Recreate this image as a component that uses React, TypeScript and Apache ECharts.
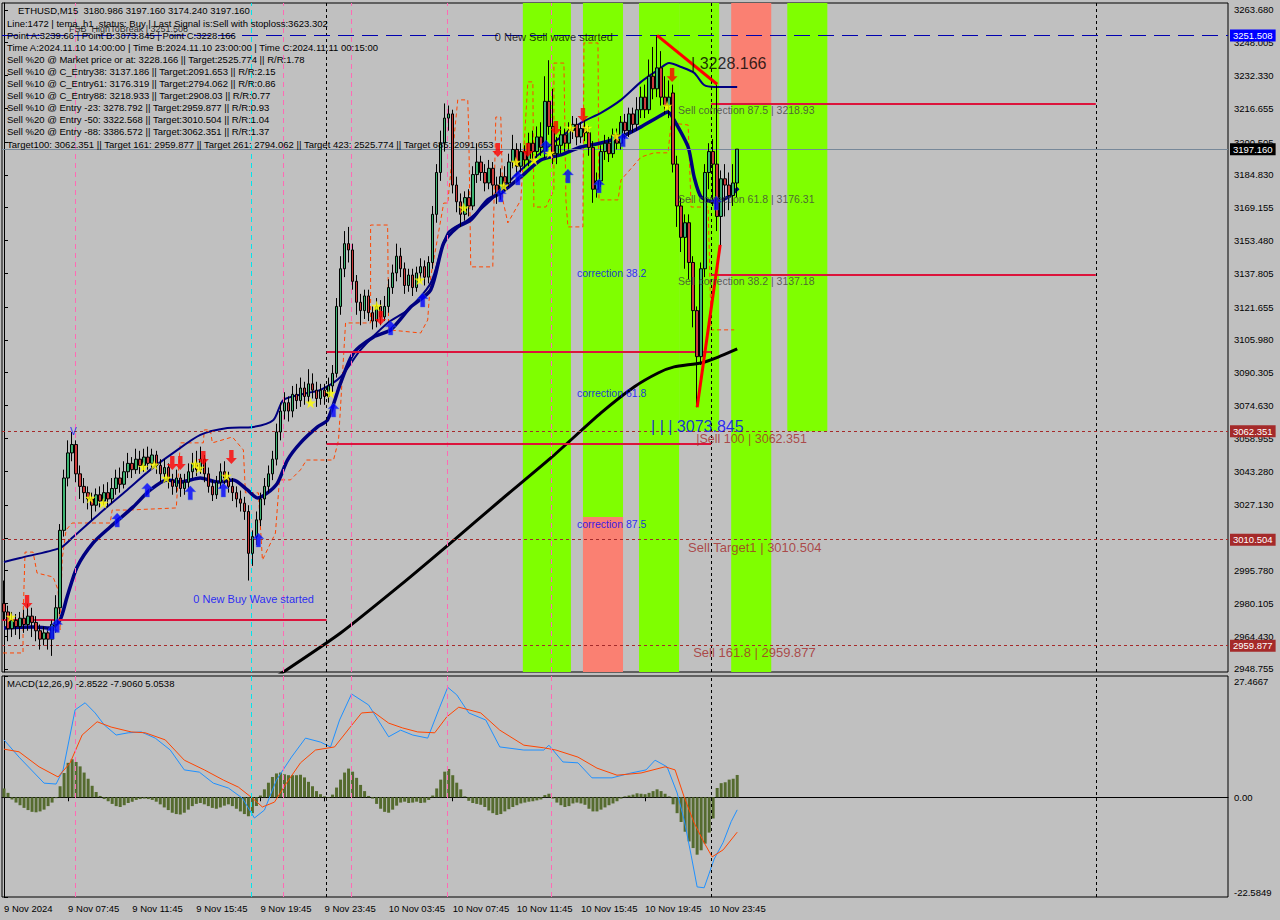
import React, { useEffect, useRef } from "react";
import * as echarts from "echarts";

const FONT = "'Liberation Sans', Arial, sans-serif";
const Y_MIN = 2947.3;
const Y_MAX = 3267.0;
const MACD_MIN = -22.5849;
const MACD_MAX = 27.4667;
const N_SLOTS = 306;

const TIME_LABELS = ["9 Nov 2024", "9 Nov 07:45", "9 Nov 11:45", "9 Nov 15:45", "9 Nov 19:45", "9 Nov 23:45", "10 Nov 03:45", "10 Nov 07:45", "10 Nov 11:45", "10 Nov 15:45", "10 Nov 19:45", "10 Nov 23:45"];
const PRICE_TICKS = [2948.755, 2964.43, 2980.105, 2995.78, 3011.455, 3027.13, 3043.28, 3058.955, 3074.63, 3090.305, 3105.98, 3121.655, 3137.805, 3153.48, 3169.155, 3184.83, 3200.505, 3216.655, 3232.33, 3248.005, 3263.68];
const MACD_TICKS = [-22.5849, 0, 27.4667];

// [open, close, low, high]
const CANDLES = [
  [2980, 2976, 2972, 2991], [2976, 2968, 2962, 2979], [2968, 2972, 2964, 2976], [2972, 2969, 2965, 2975], [2969, 2973, 2963, 2976],
  [2973, 2970, 2966, 2977], [2970, 2974, 2967, 2980], [2974, 2971, 2964, 2978], [2971, 2967, 2962, 2974], [2967, 2963, 2958, 2970],
  [2963, 2966, 2960, 2969], [2966, 2963, 2958, 2968], [2963, 2970, 2955, 2972], [2970, 2978, 2966, 2984], [2978, 3015, 2975, 3018],
  [3015, 3040, 3012, 3044], [3040, 3052, 3036, 3058], [3052, 3056, 3048, 3062], [3056, 3042, 3038, 3058], [3042, 3036, 3030, 3046],
  [3036, 3033, 3028, 3040], [3033, 3030, 3025, 3036], [3030, 3027, 3020, 3033], [3027, 3032, 3024, 3035], [3032, 3029, 3026, 3036],
  [3029, 3033, 3027, 3037], [3033, 3030, 3026, 3038], [3030, 3035, 3028, 3040], [3035, 3040, 3032, 3044], [3040, 3037, 3033, 3045],
  [3037, 3043, 3035, 3048], [3043, 3047, 3040, 3052], [3047, 3044, 3040, 3050], [3044, 3049, 3042, 3054], [3049, 3046, 3042, 3053],
  [3046, 3050, 3043, 3054], [3050, 3047, 3044, 3055], [3047, 3051, 3045, 3054], [3051, 3046, 3042, 3053], [3046, 3042, 3038, 3049],
  [3042, 3045, 3038, 3049], [3045, 3039, 3035, 3047], [3039, 3036, 3032, 3042], [3036, 3040, 3033, 3044], [3040, 3035, 3031, 3042],
  [3035, 3038, 3032, 3042], [3038, 3043, 3035, 3047], [3043, 3047, 3040, 3052], [3047, 3044, 3041, 3053], [3044, 3049, 3042, 3055],
  [3049, 3042, 3038, 3051], [3042, 3036, 3033, 3045], [3036, 3032, 3029, 3039], [3032, 3038, 3030, 3041], [3038, 3043, 3035, 3047],
  [3043, 3040, 3037, 3048], [3040, 3036, 3033, 3043], [3036, 3033, 3029, 3040], [3033, 3030, 3026, 3036], [3030, 3028, 3024, 3034],
  [3028, 3024, 3020, 3031], [3024, 3004, 2991, 3027], [3004, 3012, 2998, 3015], [3012, 3020, 3008, 3024], [3020, 3030, 3017, 3033],
  [3030, 3036, 3027, 3040], [3036, 3042, 3033, 3046], [3042, 3049, 3039, 3053], [3049, 3062, 3046, 3066], [3062, 3072, 3058, 3076],
  [3072, 3076, 3068, 3081], [3076, 3072, 3067, 3079], [3072, 3080, 3069, 3084], [3080, 3077, 3073, 3085], [3077, 3083, 3074, 3088],
  [3083, 3079, 3075, 3086], [3079, 3085, 3076, 3092], [3085, 3082, 3078, 3090], [3082, 3078, 3074, 3086], [3078, 3082, 3075, 3085],
  [3082, 3079, 3075, 3085], [3079, 3084, 3076, 3088], [3084, 3090, 3081, 3094], [3090, 3122, 3088, 3126], [3122, 3140, 3118, 3146],
  [3140, 3152, 3136, 3158], [3152, 3149, 3143, 3160], [3149, 3134, 3130, 3152], [3134, 3124, 3118, 3137], [3124, 3120, 3113, 3128],
  [3120, 3127, 3116, 3130], [3127, 3119, 3115, 3130], [3119, 3115, 3111, 3122], [3115, 3122, 3112, 3126], [3122, 3117, 3113, 3125],
  [3117, 3122, 3115, 3127], [3122, 3131, 3119, 3135], [3131, 3138, 3128, 3142], [3138, 3146, 3134, 3152], [3146, 3140, 3136, 3150],
  [3140, 3132, 3128, 3143], [3132, 3137, 3129, 3140], [3137, 3131, 3127, 3140], [3131, 3138, 3129, 3141], [3138, 3141, 3134, 3145],
  [3141, 3136, 3132, 3144], [3136, 3143, 3133, 3146], [3143, 3166, 3140, 3170], [3166, 3186, 3162, 3190], [3186, 3200, 3182, 3206],
  [3200, 3212, 3196, 3219], [3212, 3214, 3206, 3218], [3214, 3180, 3176, 3216], [3180, 3172, 3167, 3184], [3172, 3166, 3160, 3176],
  [3166, 3174, 3163, 3177], [3174, 3170, 3165, 3178], [3170, 3185, 3168, 3189], [3185, 3191, 3181, 3200], [3191, 3186, 3182, 3194],
  [3186, 3181, 3177, 3190], [3181, 3188, 3178, 3192], [3188, 3180, 3175, 3191], [3180, 3176, 3171, 3184], [3176, 3184, 3173, 3188],
  [3184, 3181, 3177, 3189], [3181, 3191, 3179, 3195], [3191, 3197, 3188, 3204], [3197, 3189, 3185, 3200], [3189, 3196, 3186, 3200],
  [3196, 3192, 3188, 3199], [3192, 3200, 3189, 3205], [3200, 3196, 3191, 3206], [3196, 3203, 3193, 3208], [3203, 3198, 3194, 3210],
  [3196, 3220, 3193, 3232], [3220, 3208, 3204, 3239.66], [3208, 3195, 3190, 3226], [3195, 3199, 3190, 3203], [3199, 3204, 3195, 3208],
  [3204, 3200, 3196, 3207], [3200, 3206, 3197, 3210], [3206, 3209, 3202, 3213], [3209, 3203, 3199, 3212], [3203, 3207, 3200, 3210],
  [3207, 3205, 3201, 3211], [3205, 3198, 3194, 3208], [3198, 3178, 3171.5, 3201], [3178, 3182, 3174, 3186], [3182, 3196, 3179, 3199],
  [3196, 3200, 3192, 3204], [3200, 3195, 3191, 3203], [3195, 3204, 3193, 3207], [3204, 3200, 3197, 3207], [3200, 3210, 3197, 3213],
  [3210, 3206, 3202, 3214], [3206, 3214, 3203, 3217], [3214, 3209, 3205, 3217], [3209, 3216, 3206, 3222], [3216, 3222, 3212, 3227],
  [3222, 3216, 3212, 3228], [3216, 3232, 3214, 3240], [3232, 3226, 3221, 3246], [3226, 3236, 3222, 3251.5], [3236, 3222, 3218, 3244],
  [3222, 3218, 3214, 3232], [3218, 3222, 3212, 3230], [3224, 3190, 3186, 3228], [3190, 3170, 3160, 3194], [3170, 3155, 3148, 3174],
  [3155, 3162, 3140, 3166], [3162, 3143, 3135, 3166], [3143, 3120, 3112, 3146], [3120, 3098, 3073.845, 3122], [3098, 3140, 3094, 3143],
  [3140, 3186, 3136, 3190], [3186, 3196, 3178, 3200], [3196, 3190, 3170, 3202], [3190, 3165, 3158, 3228.166], [3165, 3183, 3150, 3187],
  [3183, 3180, 3165, 3190], [3180, 3175, 3168, 3186], [3175, 3181, 3170, 3190], [3180.986, 3197.16, 3174.24, 3197.16],
];

// [bar index, price]
const NAVY_LOWER = [[0, 2968.3], [7.25, 2968.8], [11.5, 2968.3], [14, 2972.2], [15.75, 2983.2], [18.25, 2997.5], [22.25, 3009.0], [26.5, 3016.6], [32.25, 3026.2], [36.5, 3034.3], [40.75, 3039.1], [44, 3038.1], [49, 3040.0], [53.25, 3038.1], [57.25, 3039.1], [60.75, 3034.3], [63.25, 3030.5], [65.75, 3032.9], [68.25, 3037.6], [70.75, 3048.6], [74, 3056.8], [78.25, 3064.4], [80.75, 3067.7], [84, 3085.4], [87.25, 3099.8], [92.25, 3107.4], [96.5, 3110.8], [101.5, 3121.7], [106.5, 3129.9], [109.75, 3152.3], [113.25, 3160.0], [116.5, 3163.3], [120.75, 3172.9], [124, 3176.2], [129, 3183.9], [134, 3192.0], [139, 3194.4], [144, 3198.2], [149, 3200.1], [154, 3203.0], [159, 3207.8], [163.25, 3212.5], [165.75, 3214.9], [167.25, 3211.1], [170.75, 3198.2], [172.25, 3183.9], [174, 3174.3], [177.25, 3171.9], [180.75, 3174.3], [183.25, 3178.6]];
const NAVY_UPPER = [[0, 2999.9], [4, 3001.8], [14, 3006.6], [17.25, 3011.8], [24, 3023.3], [30.75, 3034.3], [36.5, 3043.9], [42.25, 3052.0], [49, 3060.6], [55.75, 3063.9], [62.25, 3064.4], [67.25, 3067.7], [69.75, 3077.3], [75.75, 3080.6], [79, 3082.1], [84, 3088.3], [89, 3101.2], [95.75, 3114.1], [100.75, 3120.3], [106.5, 3133.2], [110.75, 3157.1], [115.75, 3163.3], [120.75, 3171.4], [124, 3177.7], [129, 3187.2], [135.75, 3198.2], [144, 3209.7], [149, 3214.5], [154, 3220.7], [159, 3229.3], [163.25, 3235.0], [166, 3238.3], [169, 3236.4], [172.25, 3233.6], [174.75, 3227.8], [177.25, 3226.9], [183, 3226.9]];
const BLACK_MA = [[65.25, 2942.0], [69.75, 2947.3], [84, 2965.9], [99, 2988.9], [111.5, 3009.0], [124, 3029.5], [136.5, 3049.6], [149, 3071.1], [157.25, 3083.5], [163.25, 3090.2], [167.25, 3093.1], [174, 3095.0], [178.25, 3097.8], [183, 3101.7]];
const ORANGE_STOP = [[-0.25, 2956.4], [4.75, 2956.4], [4.75, 2972.2], [5.25, 3004.6], [7.25, 3004.6], [8.25, 2994.6], [12.25, 2992.7], [13.5, 2986.5], [14, 2967.4], [14.5, 3000.8], [15.5, 3015.2], [17, 3018.5], [26.5, 3018.5], [27, 3024.7], [31, 3024.7], [43, 3025.7], [44, 3056.8], [49.75, 3056.8], [50, 3063.0], [51.5, 3063.0], [52, 3056.8], [57, 3059.6], [59.75, 3053.4], [60.25, 3032.9], [63.5, 3032.9], [64.5, 3000.8], [67.75, 3013.7], [68.75, 3039.1], [71.5, 3039.1], [74, 3043.9], [75.5, 3048.6], [82.25, 3048.6], [83.5, 3058.2], [85.25, 3114.1], [91.5, 3114.1], [91.5, 3160.9], [95.75, 3160.9], [96, 3110.8], [104, 3109.3], [105.75, 3115.5], [106.5, 3136.1], [109.75, 3171.4], [110.75, 3171.4], [113.25, 3220.7], [115.75, 3220.7], [116, 3204.9], [116.5, 3140.9], [122, 3140.9], [122.25, 3166.7], [122.75, 3212.5], [124, 3212.5], [124.5, 3172.9], [125.75, 3161.9], [129, 3172.9], [130.75, 3229.3], [132, 3229.3], [132.25, 3169.5], [135.25, 3169.5], [137.25, 3177.7], [137.25, 3238.3], [139.75, 3238.3], [140.25, 3172.9], [140.75, 3160.0], [144.5, 3160.0], [144.75, 3247.9], [148.25, 3247.9], [148.5, 3172.9], [153.25, 3172.9], [154, 3182.4], [159, 3193.4], [162.25, 3195.4], [165.75, 3195.4], [166.5, 3209.7], [170.75, 3208.7], [171.5, 3169.5], [175.75, 3169.5], [176.5, 3110.8], [182.25, 3110.8]];
const ZIGZAG_DOWN = [[163, 3251.5], [178, 3228.166]];
const ZIGZAG_UP = [[173, 3073.845], [178.75, 3151.4]];

const BUY_ARROWS = [[12, 2966.4], [13.25, 2969.5], [28.25, 3019.9], [35.75, 3034.3], [46.5, 3032.9], [54.75, 3034.3], [63.5, 3010.4], [82.25, 3072.5], [96.5, 3111.7], [104.5, 3125.1], [124, 3175.3], [128.25, 3183.4], [135.25, 3198.2], [140.75, 3184.3], [148.5, 3179.6], [154.5, 3201.6], [177.75, 3171.4]];
const SELL_ARROWS = [[5.75, 2980.8], [42, 3047.2], [44, 3047.2], [49.75, 3049.6], [56.75, 3050.1], [94, 3116.5], [123.25, 3196.8], [130.75, 3196.8], [137.75, 3207.3], [144.5, 3213.5], [166.75, 3232.6]];
const STARS = [[1.75, 2973.6], [21.5, 3030.4], [24.75, 3028.0], [34.75, 3045.3], [37.5, 3046.3], [40.5, 3040.0], [47.75, 3046.7], [48.75, 3044.8], [55.5, 3041.0], [76.5, 3075.9], [81.5, 3080.6], [93, 3122.2], [103.75, 3134.7], [114.75, 3169.1], [124.75, 3179.6], [127.75, 3191.0], [132.25, 3192.0], [136.25, 3195.3], [141.5, 3207.3], [145.5, 3207.3], [152.75, 3203.5], [165.5, 3217.8]];

const MACD_HIST = [
  2.0, 1.0, -0.5, -1.2, -1.8, -2.4, -2.9, -3.3, -3.4, -3.2, -2.8, -2.0, -1.2, -0.2,
  2.5, 5.5, 7.8, 8.6, 8.0, 7.0, 5.6, 4.2, 2.6, 1.2, 0.3,
  -0.4, -0.9, -1.5, -2.0, -2.2, -1.8, -1.3, -1.0, -0.6, -0.4, -0.3, -0.4,
  -0.6, -1.0, -1.6, -2.3, -2.9, -3.5, -3.8, -3.9, -3.5, -2.8, -2.0, -1.5, -1.3, -1.6, -2.0, -2.4, -2.6, -2.3, -1.9, -1.6, -2.0, -2.6, -3.2, -3.8, -4.3, -3.6, -2.0,
  0.4, 1.8, 3.3, 4.6, 5.4, 5.6, 5.2, 5.0, 5.0, 5.0, 5.1, 4.5, 3.5, 2.5, 1.4, 0.7, 0.2, -0.1,
  0.6, 2.2, 4.0, 5.6, 6.5, 5.8, 4.4, 2.8, 1.4, 0.3,
  -0.3, -1.5, -2.6, -3.3, -3.5, -2.8, -1.9, -1.2, -1.0, -1.3, -1.2, -1.0, -1.3, -1.2, -0.6,
  0.4, 2.0, 4.0, 5.8, 6.4, 5.0, 3.3, 1.8, 0.2,
  -0.8, -1.3, -1.5, -1.7, -2.2, -3.0, -3.6, -4.0, -3.8, -3.2, -2.7, -2.2, -1.8, -1.4, -1.2, -1.0, -0.9, -0.7, -0.5,
  0.5, 0.8,
  -0.3, -1.2, -1.8, -2.2, -2.0, -1.4, -1.2, -1.4, -1.7, -2.6, -3.2, -3.2, -2.8, -2.3, -1.8, -1.4, -0.9, -0.3,
  0.2, 0.4, 0.6, 0.9, 0.8, 0.7, 1.0, 1.4, 1.8, 1.4, 0.8, 0.2,
  -1.6, -3.6, -5.6, -7.8, -10.0, -11.5, -13.0, -12.0, -10.5, -8.0, -4.8,
  2.1, 3.2, 3.4, 4.0, 4.2, 5.0538,
];
const MACD_MAIN = [[0, 13.0], [3.75, 9.1], [10, 3.2], [13, 3.0], [14.75, 6.2], [17.75, 19.8], [20.25, 21.4], [22.75, 19.1], [25, 16.4], [28, 14.1], [31, 14.6], [34.25, 14.8], [37.75, 13.4], [41.5, 10.7], [45, 6.2], [48.75, 5.7], [52.25, 3.2], [56, 2.1], [59.5, -0.2], [62.5, -4.7], [65, -2.9], [68, 3.9], [71.75, 9.1], [75.25, 13.4], [79, 12.5], [81.5, 11.4], [83.75, 17.5], [86.75, 23.4], [91, 20.9], [96, 13.7], [99, 15.2], [102, 14.1], [105.75, 13.4], [108.75, 20.4], [110.75, 24.9], [113, 23.2], [116, 19.1], [120.25, 17.5], [123.75, 11.4], [129.75, 10.7], [134.75, 10.7], [136, 11.8], [139.5, 8.0], [143.25, 7.8], [146.75, 4.4], [151.75, 4.4], [156.5, 5.5], [160.25, 6.2], [162.5, 8.4], [165.5, 6.9], [168, 1.0], [169.75, -5.1], [171.5, -13.1], [173, -20.3], [174.75, -20.5], [177.25, -14.0], [179.5, -10.2], [181.5, -5.5], [183, -2.8522]];
const MACD_SIGNAL = [[0, 10.9], [3.75, 10.3], [8.75, 6.9], [13.5, 4.6], [16.5, 7.8], [19.5, 14.1], [23.25, 17.1], [26.75, 15.9], [31.75, 14.8], [35.25, 14.6], [40.25, 13.0], [45, 8.4], [50, 6.2], [54.75, 3.9], [58.5, 2.3], [62, -0.2], [64.5, -2.2], [67.5, -1.1], [70.5, 3.2], [74, 7.8], [77.75, 10.7], [82.5, 11.4], [86.25, 15.7], [89.25, 19.1], [92.25, 19.3], [96, 16.8], [99.5, 15.7], [103.25, 14.8], [107.5, 14.6], [110.5, 18.2], [113.5, 20.4], [119, 19.1], [123.75, 15.2], [129.75, 11.8], [134.75, 11.2], [137.75, 10.7], [143.25, 9.1], [148, 6.6], [153, 5.0], [159, 5.5], [165, 6.9], [167.5, 6.2], [169.75, 0.1], [172.25, -5.8], [174.75, -10.3], [176.75, -13.5], [179.5, -11.9], [183, -7.906]];

const GREEN_BANDS = [[129.5, 141.5, 2947.3, 3267.0], [144.5, 154.5, 3021.4, 3267.0], [158.5, 168.5, 2947.3, 3267.0], [168.5, 178.5, 3062.351, 3267.0], [181.5, 191.5, 2947.3, 3218.93], [195.5, 205.5, 3062.351, 3267.0]];
const SALMON_BANDS = [[144.5, 154.5, 2947.3, 3021.4], [181.5, 191.5, 3218.93, 3267.0]];
const RED_LEVELS = [[-0.5, 80.5, 2972.4], [80.5, 176.5, 3100.2], [80.5, 176.5, 3056.4], [176.5, 272.5, 3218.93], [176.5, 272.5, 3137.18]];
const PINK_VLINES = [17.7, 69.6, 86.6, 110.6, 136.5];
const CYAN_VLINES = [61.6];
const DAY_SEPARATORS = [80.5, 176.5, 272.5];

const HEADER_LINES = [
  "Line:1472 | tema_h1_status: Buy | Last Signal is:Sell with stoploss:3623.302",
  "Point A:3239.66 | Point B:3073.845 | Point C:3228.166",
  "Time A:2024.11.10 14:00:00 | Time B:2024.11.10 23:00:00 | Time C:2024.11.11 00:15:00",
  "Sell %20 @ Market price or at: 3228.166 || Target:2525.774 || R/R:1.78",
  "Sell %10 @ C_Entry38: 3137.186 || Target:2091.653 || R/R:2.15",
  "Sell %10 @ C_Entry61: 3176.319 || Target:2794.062 || R/R:0.86",
  "Sell %10 @ C_Entry88: 3218.933 || Target:2908.03 || R/R:0.77",
  "Sell %10 @ Entry -23: 3278.792 || Target:2959.877 || R/R:0.93",
  "Sell %20 @ Entry -50: 3322.568 || Target:3010.504 || R/R:1.04",
  "Sell %20 @ Entry -88: 3386.572 || Target:3062.351 || R/R:1.37",
  "Target100: 3062.351 || Target 161: 2959.877 || Target 261: 2794.062 || Target 423: 2525.774 || Target 685: 2091.653",
];

const ANNOTATIONS = [
  { text: "0 New Sell wave started", bar: 122.5, price: 3250.8, color: "#000000", size: 11 },
  { text: "0 New Buy Wave started", bar: 47.25, price: 2982.2, color: "#0000FF", size: 11 },
  { text: "FSB_HighToBreak | 3251.508", bar: 16.25, price: 3254.6, color: "#000000", size: 9 },
  { text: "| 3228.166", bar: 171.5, price: 3238.3, color: "#000000", size: 16 },
  { text: "| | | 3073.845", bar: 161.5, price: 3064.4, color: "#0000FF", size: 16 },
  { text: "|Sell 100 | 3062.351", bar: 172.75, price: 3058.7, color: "#A52A2A", size: 12.5 },
  { text: "Sell Target1 | 3010.504", bar: 170.75, price: 3007.0, color: "#A52A2A", size: 13 },
  { text: "Sell 161.8 | 2959.877", bar: 172, price: 2956.4, color: "#A52A2A", size: 13 },
  { text: "Sell correction 87.5 | 3218.93", bar: 168.25, price: 3215.9, color: "#404040", size: 10.5 },
  { text: "Sell correction 61.8 | 3176.31", bar: 168.25, price: 3173.4, color: "#404040", size: 10.5 },
  { text: "Sell correction 38.2 | 3137.18", bar: 168.25, price: 3134.2, color: "#404040", size: 10.5 },
  { text: "correction 38.2", bar: 143, price: 3138.0, color: "#0000FF", size: 10.5 },
  { text: "correction 61.8", bar: 143, price: 3080.6, color: "#0000FF", size: 10.5 },
  { text: "correction 87.5", bar: 143, price: 3018.0, color: "#0000FF", size: 10.5 },
  { text: "V", bar: 16.5, price: 3062.0, color: "#0000FF", size: 10 },
];

const UP_ARROW = "path://M5,0 L10,5 L7,5 L7,12 L3,12 L3,5 L0,5 Z";
const STAR = "path://M50,0 L61,35 L98,35 L68,57 L79,91 L50,70 L21,91 L32,57 L2,35 L39,35 Z";

function boxLine(value: number, lineColor: string, boxColor: string, type: any, text: string) {
  return {
    yAxis: value,
    lineStyle: { color: lineColor, type, width: 1 },
    label: {
      show: true, position: "end", formatter: text, backgroundColor: boxColor, color: "#ffffff",
      padding: [1, 3, 1, 3], fontSize: 9.5, fontFamily: FONT, distance: 2,
    },
  };
}

function buildOption() {
  const cats = Array.from({ length: N_SLOTS }, (_, i) => String(i));
  const candleData = CANDLES.map((c) => [c[0], c[1], c[2], c[3]]);
  const labelStyle = { color: "#000", fontSize: 9.5, fontFamily: FONT };
  const valueX = (gridIndex: number) => ({ type: "value", gridIndex, min: -0.5, max: N_SLOTS - 0.5, show: false });

  const bandAreas: any[] = [];
  GREEN_BANDS.forEach((b) => bandAreas.push([{ xAxis: b[0], yAxis: b[3], itemStyle: { color: "#7FFF00" } }, { xAxis: b[1], yAxis: b[2] }]));
  SALMON_BANDS.forEach((b) => bandAreas.push([{ xAxis: b[0], yAxis: b[3], itemStyle: { color: "#FA8072" } }, { xAxis: b[1], yAxis: b[2] }]));

  const vlineData = (withCyan: boolean) => {
    const d: any[] = [];
    PINK_VLINES.forEach((v) => d.push({ xAxis: v, lineStyle: { color: "#FF69B4", type: [5, 4], width: 1 } }));
    if (withCyan) CYAN_VLINES.forEach((v) => d.push({ xAxis: v, lineStyle: { color: "#00E5EE", type: [5, 4], width: 1 } }));
    DAY_SEPARATORS.forEach((v) => d.push({ xAxis: v, lineStyle: { color: "#000000", type: [3, 3], width: 1 } }));
    return d;
  };

  const hlineData: any[] = [
    boxLine(3251.508, "#0000B0", "#0000FF", [16, 8], "3251.508"),
    boxLine(3197.16, "#778899", "#000000", "solid", "3197.160"),
    boxLine(3062.351, "#A52A2A", "#A52A2A", [3, 3], "3062.351"),
    boxLine(3010.504, "#A52A2A", "#A52A2A", [3, 3], "3010.504"),
    boxLine(2959.877, "#A52A2A", "#A52A2A", [3, 3], "2959.877"),
  ];
  RED_LEVELS.forEach((r) => hlineData.push([
    { coord: [r[0], r[2]], lineStyle: { color: "#DC143C", width: 2, type: "solid" }, label: { show: false } },
    { coord: [r[1], r[2]] },
  ]));

  return {
    animation: false,
    backgroundColor: "#C0C0C0",
    grid: [
      { left: 2, top: 3, width: 1226, height: 669, show: true, borderColor: "#000", borderWidth: 1, backgroundColor: "transparent" },
      { left: 2, top: 676, width: 1226, height: 221, show: true, borderColor: "#000", borderWidth: 1, backgroundColor: "transparent" },
    ],
    xAxis: [
      { type: "category", gridIndex: 0, data: cats, boundaryGap: true, axisLabel: { show: false }, axisTick: { show: false }, axisLine: { show: false } },
      valueX(0),
      {
        type: "category", gridIndex: 1, data: cats, boundaryGap: true, position: "bottom",
        axisLine: { show: true, lineStyle: { color: "#000", width: 1 } },
        axisTick: { show: true, length: 4, alignWithLabel: true, interval: (i: number) => i % 16 === 0 && i / 16 < TIME_LABELS.length, lineStyle: { color: "#000" } },
        axisLabel: {
          ...labelStyle, align: "left", margin: 6, interval: 0, hideOverlap: false,
          formatter: (_v: string, i: number) => (i % 16 === 0 && i / 16 < TIME_LABELS.length ? TIME_LABELS[i / 16] : ""),
        },
      },
      valueX(1),
    ],
    yAxis: [
      {
        type: "value", gridIndex: 0, position: "right", min: Y_MIN, max: Y_MAX, splitLine: { show: false },
        axisLine: { show: true, lineStyle: { color: "#000" } },
        axisTick: { show: true, length: 4, customValues: PRICE_TICKS, lineStyle: { color: "#000" } },
        axisLabel: { ...labelStyle, margin: 6, customValues: PRICE_TICKS, formatter: (v: number) => v.toFixed(3) },
      },
      {
        type: "value", gridIndex: 1, position: "right", min: MACD_MIN, max: MACD_MAX, splitLine: { show: false },
        axisLine: { show: true, lineStyle: { color: "#000" } },
        axisTick: { show: true, length: 4, customValues: MACD_TICKS, lineStyle: { color: "#000" } },
        axisLabel: {
          ...labelStyle, margin: 6, customValues: MACD_TICKS, verticalAlignMaxLabel: "top", verticalAlignMinLabel: "bottom",
          formatter: (v: number) => (v === 0 ? "0.00" : v.toFixed(4)),
        },
      },
    ],
    graphic: [
      { type: "text", x: 18, y: 10, z: 50, style: { text: "ETHUSD,M15  3180.986 3197.160 3174.240 3197.160", fill: "#000", font: `9.5px ${FONT}`, verticalAlign: "middle" } },
      ...HEADER_LINES.map((t, k) => ({
        type: "text", x: 7, y: 23 + k * 12.1, z: 50,
        style: { text: t, fill: "#000", font: `9.5px ${FONT}`, verticalAlign: "middle" },
      })),
      { type: "text", x: 7, y: 683, z: 50, style: { text: "MACD(12,26,9) -2.8522 -7.9060 5.0538", fill: "#000", font: `9.5px ${FONT}`, verticalAlign: "middle" } },
    ],
    series: [
      {
        name: "bands", type: "line", xAxisIndex: 1, yAxisIndex: 0, data: [[-10, 3000]], showSymbol: false, z: 1,
        lineStyle: { width: 0 }, silent: true,
        markArea: { silent: true, data: bandAreas },
      },
      {
        name: "vlinesMain", type: "line", xAxisIndex: 1, yAxisIndex: 0, data: [[-10, 3000]], showSymbol: false, z: 2, lineStyle: { width: 0 },
        markLine: { silent: true, symbol: ["none", "none"], label: { show: false }, data: vlineData(true) },
      },
      {
        name: "hlines", type: "line", xAxisIndex: 1, yAxisIndex: 0, data: [[-10, 3000]], showSymbol: false, z: 3, lineStyle: { width: 0 },
        markLine: { silent: true, symbol: ["none", "none"], label: { show: false }, data: hlineData },
      },
      { name: "orange", type: "line", xAxisIndex: 1, yAxisIndex: 0, data: ORANGE_STOP, showSymbol: false, z: 3, lineStyle: { color: "#FF4500", width: 1, type: [4, 3] } },
      { name: "ma", type: "line", xAxisIndex: 1, yAxisIndex: 0, data: BLACK_MA, showSymbol: false, z: 4, smooth: 0.2, lineStyle: { color: "#000", width: 3 } },
      { name: "navyUpper", type: "line", xAxisIndex: 1, yAxisIndex: 0, data: NAVY_UPPER, showSymbol: false, z: 4, smooth: 0.25, lineStyle: { color: "#000080", width: 2 } },
      { name: "navyLower", type: "line", xAxisIndex: 1, yAxisIndex: 0, data: NAVY_LOWER, showSymbol: false, z: 4, smooth: 0.25, lineStyle: { color: "#000080", width: 3.5 } },
      {
        name: "price", type: "candlestick", xAxisIndex: 0, yAxisIndex: 0, data: candleData, z: 5, barWidth: 3,
        itemStyle: { color: "#3CB371", color0: "#CD3B3B", borderColor: "#000", borderColor0: "#000", borderWidth: 1 },
      },
      { name: "zigDown", type: "line", xAxisIndex: 1, yAxisIndex: 0, data: ZIGZAG_DOWN, showSymbol: false, z: 6, lineStyle: { color: "#FF0000", width: 3 } },
      { name: "zigUp", type: "line", xAxisIndex: 1, yAxisIndex: 0, data: ZIGZAG_UP, showSymbol: false, z: 6, lineStyle: { color: "#FF0000", width: 3 } },
      { name: "buy", type: "scatter", xAxisIndex: 1, yAxisIndex: 0, data: BUY_ARROWS, symbol: UP_ARROW, symbolSize: [11, 14], z: 7, itemStyle: { color: "#0000FF", borderColor: "#4169E1", borderWidth: 0.5 } },
      { name: "sell", type: "scatter", xAxisIndex: 1, yAxisIndex: 0, data: SELL_ARROWS, symbol: UP_ARROW, symbolRotate: 180, symbolSize: [11, 14], z: 7, itemStyle: { color: "#FF0000" } },
      { name: "stars", type: "scatter", xAxisIndex: 1, yAxisIndex: 0, data: STARS, symbol: STAR, symbolSize: 11, z: 7, itemStyle: { color: "#FFFF00" } },
      {
        name: "notes", type: "scatter", xAxisIndex: 1, yAxisIndex: 0, symbolSize: 0, z: 8, silent: true,
        data: ANNOTATIONS.map((a) => ({
          value: [a.bar, a.price],
          label: { show: true, position: "right", distance: 0, formatter: a.text, color: a.color, fontSize: a.size, fontFamily: FONT },
        })),
      },
      { name: "hist", type: "bar", xAxisIndex: 2, yAxisIndex: 1, data: MACD_HIST, barWidth: 3, z: 3, itemStyle: { color: "#556B2F" } },
      {
        name: "vlinesMacd", type: "line", xAxisIndex: 3, yAxisIndex: 1, data: [[-10, 0]], showSymbol: false, z: 2, lineStyle: { width: 0 },
        markLine: { silent: true, symbol: ["none", "none"], label: { show: false }, data: vlineData(true) },
      },
      { name: "macd", type: "line", xAxisIndex: 3, yAxisIndex: 1, data: MACD_MAIN, showSymbol: false, z: 4, lineStyle: { color: "#1E90FF", width: 1 } },
      { name: "signal", type: "line", xAxisIndex: 3, yAxisIndex: 1, data: MACD_SIGNAL, showSymbol: false, z: 4, lineStyle: { color: "#FF4500", width: 1 } },
    ],
  };
}

export default function App() {
  const ref = useRef<HTMLDivElement>(null);
  useEffect(() => {
    if (!ref.current) return;
    const chart = echarts.init(ref.current, null, { renderer: "svg", width: 1280, height: 920 });
    chart.setOption(buildOption() as any);
    return () => chart.dispose();
  }, []);
  return (
    <div
      ref={ref}
      style={{ position: "fixed", left: 0, top: 0, width: 1280, height: 920, background: "#C0C0C0" }}
    />
  );
}
